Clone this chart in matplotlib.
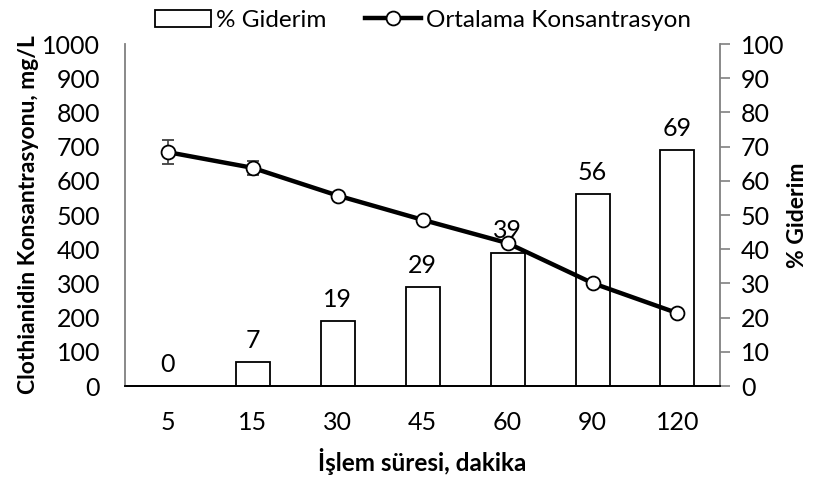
import matplotlib.pyplot as plt
from matplotlib.lines import Line2D
import numpy as np

plt.rcParams['font.family'] = ['Lato', 'DejaVu Sans']

# data
sure = ['5', '15', '30', '45', '60', '90', '120']
giderim = [0, 7, 19, 29, 39, 56, 69]
konsantrasyon = [684, 638, 557, 486, 418, 301, 213]
hata = [34, 20, 0, 0, 0, 0, 0]

x = np.arange(len(sure))

fig = plt.figure(figsize=(8.13, 4.8), dpi=100)
ax = fig.add_axes([0.1538, 0.1958, 0.7318, 0.7125])
ax2 = ax.twinx()

# bars (% removal) on right axis
bars = ax2.bar(x, giderim, width=0.4, facecolor='white', edgecolor='black',
               linewidth=1.3)
for xi, v in zip(x, giderim):
    ax2.text(xi, v + 3, str(v), ha='center', va='bottom', fontsize=18)

# line (mean concentration) on left axis
yerr = [e if e > 0 else np.nan for e in hata]
ax.errorbar(x, konsantrasyon, yerr=yerr, color='black', linewidth=3.2,
            marker='o', markersize=10, markerfacecolor='white',
            markeredgecolor='black', markeredgewidth=1.3,
            ecolor='#404040', elinewidth=1.2, capsize=4, capthick=1.2)

ax.set_zorder(ax2.get_zorder() + 1)
ax.patch.set_visible(False)

ax.set_xlim(-0.5, 6.5)
ax.set_ylim(0, 1000)
ax.set_yticks(range(0, 1001, 100))
ax2.set_ylim(0, 100)
ax2.set_yticks(range(0, 101, 10))
ax.set_xticks(x)
ax.set_xticklabels(sure)

for a in (ax, ax2):
    a.spines['top'].set_visible(False)
    a.spines['left'].set_color('#808080')
    a.spines['right'].set_color('#808080')
    a.spines['bottom'].set_color('black')
    a.spines['bottom'].set_linewidth(1.3)
    a.spines['left'].set_linewidth(1.3)
    a.spines['right'].set_linewidth(1.3)

ax.spines['right'].set_visible(False)
ax2.spines['left'].set_visible(False)
ax.tick_params(axis='y', length=0, labelsize=18, pad=18)
ax.tick_params(axis='x', length=0, labelsize=18, pad=18)
ax2.tick_params(axis='y', length=7, width=1.2, color='#808080', labelsize=18, pad=8)

ax.set_xlabel('İşlem süresi, dakika', fontsize=17.5, fontweight='bold', labelpad=10)
ax.set_ylabel('Clothianidin Konsantrasyonu, mg/L', fontsize=16.5, fontweight='bold', labelpad=2)
ax2.set_ylabel('% Giderim', fontsize=16.5, fontweight='bold', labelpad=2)

bar_h = plt.Rectangle((0, 0), 1, 1, facecolor='white', edgecolor='black', linewidth=1.3)
line_h = Line2D([], [], color='black', linewidth=3.2, marker='o', markersize=10,
                markerfacecolor='white', markeredgecolor='black', markeredgewidth=1.3)
fig.legend(handles=[bar_h, line_h], labels=['% Giderim', 'Ortalama Konsantrasyon'],
           loc='upper center', bbox_to_anchor=(0.52, 1.025), ncol=2, frameon=False,
           fontsize=17.5, handlelength=2.3, columnspacing=1.6, handletextpad=0.2)

fig.savefig('out.png', dpi=100)
